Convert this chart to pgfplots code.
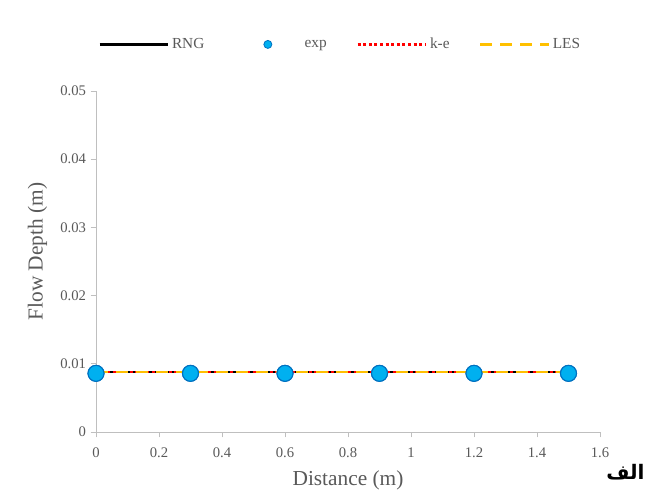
\documentclass[border=0pt]{standalone}
\usepackage{fontspec}
\setmainfont{Liberation Serif}
\newfontfamily\arabicfont[Script=Arabic]{DejaVu Sans}
\TeXXeTstate=1
\usepackage{pgfplots}
\pgfplotsset{compat=1.18}
\definecolor{txtgray}{HTML}{595959}
\definecolor{axgray}{HTML}{BFBFBF}
\definecolor{lesorange}{HTML}{FFC000}
\definecolor{expblue}{HTML}{00B0F0}
\definecolor{expedge}{HTML}{0070C0}
\begin{document}
\begin{tikzpicture}
\begin{axis}[name=ax,
  scale only axis, width=378pt, height=255.75pt,
  xmin=0, xmax=1.6, ymin=0, ymax=0.05,
  xtick={0,0.2,...,1.6}, ytick={0,0.01,...,0.05},
  scaled y ticks=false, scaled x ticks=false,
  axis x line*=bottom, axis y line*=left,
  axis line style={axgray, line width=0.6pt, -},
  tick style={axgray, line width=0.6pt},
  tick align=outside, major tick length=4pt,
  /pgf/number format/assume math mode=true,
  yticklabel style={/pgf/number format/fixed, /pgf/number format/precision=2},
  xticklabel style={/pgf/number format/fixed, /pgf/number format/precision=1, yshift=-4pt},
  ticklabel style={font=\fontsize{11}{13}\selectfont, text=txtgray},
  xlabel={Distance (m)}, ylabel={Flow Depth (m)},
  label style={font=\fontsize{16}{18}\selectfont, text=txtgray},
  xlabel style={yshift=-3pt}, ylabel style={yshift=3pt, xshift=7.5pt},
  legend columns=4,
  legend style={draw=none, fill=none, at={(0.485,1)}, anchor=south, yshift=26pt,
    font=\fontsize{11.5}{13}\selectfont, text=txtgray,
    /tikz/every even column/.append style={column sep=20pt}},
  legend cell align=left,
  legend image code/.code={\draw[#1] (0cm,0cm) -- (1.8cm,0cm);},
]
\addplot[black, line width=2.2pt, no marks] coordinates {(0,0.0088) (0.3,0.0088) (0.6,0.0088) (0.9,0.0088) (1.2,0.0088) (1.5,0.0088)};
\addlegendentry{RNG}
\addplot[only marks, mark=*, mark size=6pt, mark options={fill=expblue, draw=expedge, line width=0.8pt},
  legend image code/.code={\path[draw=none] (0cm,0cm) -- (1.8cm,0cm); \filldraw[fill=expblue, draw=expedge, line width=0.6pt] (0.9cm,0cm) circle (3pt);}]
  coordinates {(0,0.0086) (0.3,0.0086) (0.6,0.0086) (0.9,0.0086) (1.2,0.0086) (1.5,0.0086)};
\addlegendentry{exp}
\addplot[red, line width=2.2pt, dotted, no marks] coordinates {(0,0.0088) (0.3,0.0088) (0.6,0.0088) (0.9,0.0088) (1.2,0.0088) (1.5,0.0088)};
\addlegendentry{k-e}
\addplot[lesorange, line width=2.2pt, dash pattern=on 9pt off 6pt, no marks] coordinates {(0,0.0088) (0.3,0.0088) (0.6,0.0088) (0.9,0.0088) (1.2,0.0088) (1.5,0.0088)};
\addlegendentry{LES}
\addplot[only marks, mark=*, mark size=6pt, mark options={fill=expblue, draw=expedge, line width=0.8pt}, forget plot]
  coordinates {(0,0.0086) (0.3,0.0086) (0.6,0.0086) (0.9,0.0086) (1.2,0.0086) (1.5,0.0086)};
\end{axis}
\node[anchor=center, font=\arabicfont\bfseries\fontsize{15}{17}\selectfont] at ([xshift=19pt,yshift=-30.5pt]ax.south east) {\beginR الف\endR};
\path[use as bounding box] ([xshift=-72pt,yshift=-42pt]ax.south west) rectangle ([xshift=41.25pt,yshift=68.25pt]ax.north east);
\end{tikzpicture}
\end{document}
